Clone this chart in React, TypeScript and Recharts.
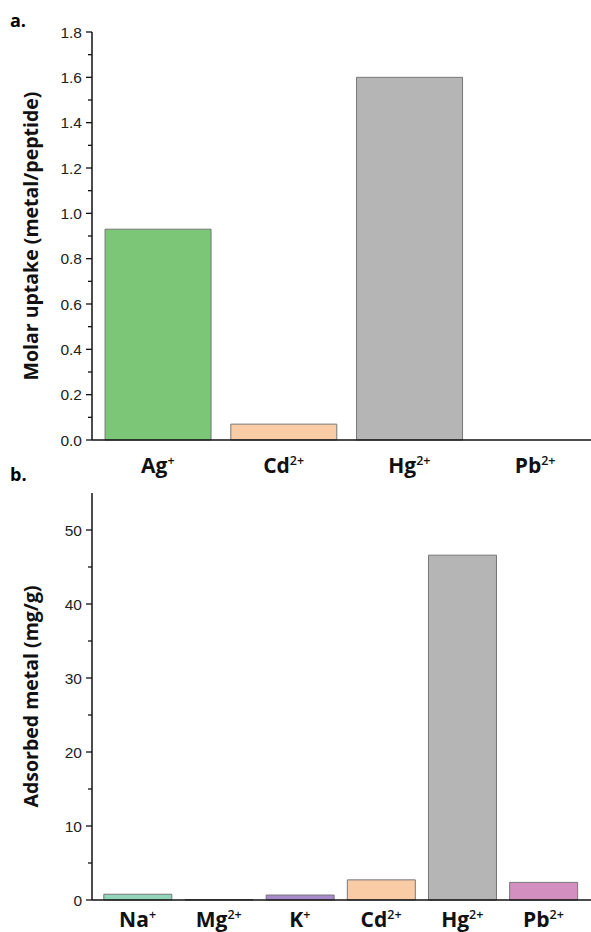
import React from "react";
import { BarChart, Bar, XAxis, YAxis, Cell } from "recharts";

// panel a: molar uptake
const ionsA = ["Ag", "Cd", "Hg", "Pb"];
const chargesA = ["+", "2+", "2+", "2+"];
const uptakeA = [0.93, 0.07, 1.6, 0];
const colorsA = ["#7bc677", "#f9cca5", "#b4b5b4", "#d28fbf"];
const ticksA = [0, 0.1, 0.2, 0.3, 0.4, 0.5, 0.6, 0.7, 0.8, 0.9, 1.0, 1.1, 1.2, 1.3, 1.4, 1.5, 1.6, 1.7, 1.8];

// panel b: adsorbed metal
const ionsB = ["Na", "Mg", "K", "Cd", "Hg", "Pb"];
const chargesB = ["+", "2+", "+", "2+", "2+", "2+"];
const adsorbedB = [0.78, 0.05, 0.67, 2.72, 46.6, 2.38];
const colorsB = ["#93d5ba", "#3a3a3a", "#a98bcb", "#f9cca5", "#b4b5b4", "#d28fbf"];
const ticksB = [0, 5, 10, 15, 20, 25, 30, 35, 40, 45, 50];

const dataA = ionsA.map((ion, i) => ({ ion, charge: chargesA[i], value: uptakeA[i] }));
const dataB = ionsB.map((ion, i) => ({ ion, charge: chargesB[i], value: adsorbedB[i] }));

const labelFont = "'Open Sans', sans-serif";
const numFont = "'Liberation Sans', Arial, sans-serif";

function makeYTick(isMajor: (v: number) => boolean, fmt: (v: number) => string) {
  return (props: any) => {
    const { x, y, payload } = props;
    const major = isMajor(payload.value);
    return (
      <g>
        <line x1={x} x2={x - (major ? 6 : 4)} y1={y} y2={y} stroke="#111" strokeWidth={1.3} />
        {major && (
          <text x={x - 10} y={y} dy={5.5} textAnchor="end" fontSize={15.5} fontFamily={numFont} fill="#222">
            {fmt(payload.value)}
          </text>
        )}
      </g>
    );
  };
}

function makeXTick(data: { ion: string; charge: string }[], dy: number) {
  return (props: any) => {
    const { x, y, index } = props;
    const d = data[index];
    return (
      <text x={x} y={y + dy} textAnchor="middle" fontFamily={labelFont} fontWeight={700} fontSize={21} fill="#111">
        <tspan>{d.ion}</tspan>
        <tspan fontSize={12.5} fontWeight={600} dy={-8}>{d.charge}</tspan>
      </text>
    );
  };
}

function yLabel(text: string) {
  return (props: any) => {
    const vb = props.viewBox;
    const cy = vb.y + vb.height / 2;
    return (
      <text
        x={30}
        y={cy}
        transform={`rotate(-90, 30, ${cy})`}
        textAnchor="middle"
        dominantBaseline="central"
        fontFamily={labelFont}
        fontWeight={700}
        fontSize={19.5}
        fill="#111"
      >
        {text}
      </text>
    );
  };
}

export default function App() {
  return (
    <div style={{ position: "absolute", left: 0, top: 0, width: 591, height: 932, overflow: "hidden", background: "#fff" }}>
      <div style={{ position: "absolute", left: 10, top: 8, fontFamily: labelFont, fontWeight: 700, fontSize: 18 }}>a.</div>
      <div style={{ position: "absolute", left: 10, top: 462, fontFamily: labelFont, fontWeight: 700, fontSize: 18 }}>b.</div>

      <div style={{ position: "absolute", left: 0, top: 0 }}>
        <BarChart width={598} height={490} data={dataA} margin={{ top: 32, right: 0, bottom: 0, left: 0 }} barCategoryGap="8%">
          <XAxis
            dataKey="ion"
            height={50}
            axisLine={{ stroke: "#111", strokeWidth: 1.5 }}
            tickLine={false}
            tickSize={0}
            tickMargin={0}
            tick={makeXTick(dataA, 33)}
            padding={{ left: 3, right: 0 }}
            interval={0}
          />
          <XAxis xAxisId="top" orientation="top" dataKey="ion" height={0} tick={false} tickLine={false} axisLine={{ stroke: "#333", strokeWidth: 1.5 }} />
          <YAxis
            width={92}
            domain={[0, 1.8]}
            ticks={ticksA}
            interval={0}
            tickSize={0}
            tickMargin={0}
            tickLine={false}
            axisLine={{ stroke: "#111", strokeWidth: 1.5 }}
            tick={makeYTick((v) => Math.round(v * 10) % 2 === 0, (v) => v.toFixed(1))}
            label={{ content: yLabel("Molar uptake (metal/peptide)") }}
          />
          <Bar dataKey="value" isAnimationActive={false} stroke="#777" strokeWidth={1}>
            {dataA.map((d, i) => (
              <Cell key={d.ion} fill={colorsA[i]} />
            ))}
          </Bar>
        </BarChart>
      </div>

      <div style={{ position: "absolute", left: 0, top: 480 }}>
        <BarChart width={591} height={452} data={dataB} margin={{ top: 13, right: 0, bottom: 0, left: 0 }} barCategoryGap="8.4%">
          <XAxis
            dataKey="ion"
            height={32}
            axisLine={{ stroke: "#111", strokeWidth: 1.5 }}
            tickLine={false}
            tickSize={0}
            tickMargin={0}
            tick={makeXTick(dataB, 27)}
            padding={{ left: 5, right: 7 }}
            interval={0}
          />
          <XAxis xAxisId="top" orientation="top" dataKey="ion" height={0} tick={false} tickLine={false} axisLine={{ stroke: "#333", strokeWidth: 1.5 }} />
          <YAxis
            width={92}
            domain={[0, 55]}
            ticks={ticksB}
            interval={0}
            tickSize={0}
            tickMargin={0}
            tickLine={false}
            axisLine={{ stroke: "#111", strokeWidth: 1.5 }}
            tick={makeYTick((v) => v % 10 === 0, (v) => String(v))}
            label={{ content: yLabel("Adsorbed metal (mg/g)") }}
          />
          <Bar dataKey="value" isAnimationActive={false} stroke="#777" strokeWidth={1}>
            {dataB.map((d, i) => (
              <Cell key={d.ion} fill={colorsB[i]} />
            ))}
          </Bar>
        </BarChart>
      </div>
    </div>
  );
}
